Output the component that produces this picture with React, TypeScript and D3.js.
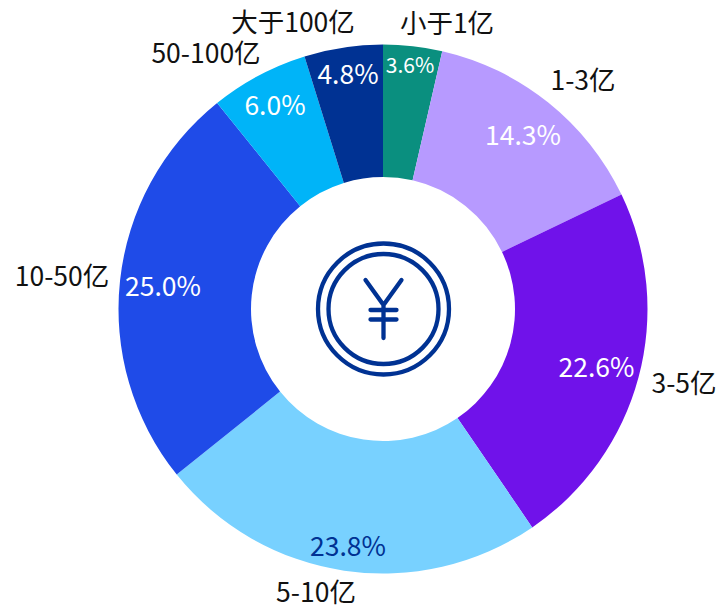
import React from "react";
import * as d3 from "d3";

const categories = ["小于1亿", "1-3亿", "3-5亿", "5-10亿", "10-50亿", "50-100亿", "大于100亿"];
const values = [3.6, 14.3, 22.6, 23.8, 25.0, 6.0, 4.8];
const valueLabels = ["3.6%", "14.3%", "22.6%", "23.8%", "25.0%", "6.0%", "4.8%"];
const colors = ["#0A8F7F", "#B79AFF", "#7012EA", "#78D1FF", "#1F4BE8", "#00B4F8", "#003293"];
const labelColors = ["#fff", "#fff", "#fff", "#003293", "#fff", "#fff", "#fff"];
const fontSizes = [21, 26.5, 26.5, 26.5, 26.5, 26.5, 26.5];
const catPos: [number, number][] = [
  [447, 21], [583, 78], [684, 381], [316, 590],
  [62, 274], [206, 51], [293, 20],
];
const valPos: [number, number][] = [
  [410, 64], [523, 133], [596.5, 365], [348, 544], [163, 284], [275, 103], [348, 72],
];

const cx = 383, cy = 309, ro = 264.5, ri = 132;
const font = "'Noto Sans CJK SC', 'Noto Sans', sans-serif";

export default function App() {
  const pie = d3.pie<number>().sort(null).value((d) => d)(values);
  const arc = d3.arc<d3.PieArcDatum<number>>().innerRadius(ri).outerRadius(ro);
  return (
    <svg width={720} height={606} style={{ position: "absolute", left: 0, top: 0 }} fontFamily={font}>
      <g transform={`translate(${cx},${cy})`}>
        {pie.map((p, i) => <path key={i} d={arc(p) ?? ""} fill={colors[i]} />)}
      </g>
      {valueLabels.map((t, i) => (
        <text key={t} x={valPos[i][0]} y={valPos[i][1]} fill={labelColors[i]} fontSize={fontSizes[i]} textAnchor="middle" dominantBaseline="central">{t}</text>
      ))}
      {categories.map((t, i) => (
        <text key={t} x={catPos[i][0]} y={catPos[i][1]} fill="#111" fontSize={26.5} textAnchor="middle" dominantBaseline="central">{t}</text>
      ))}
      <g fill="none" stroke="#003293" strokeWidth={4.3} strokeLinecap="round" strokeLinejoin="round" transform="translate(383.5,309)">
        <circle r={65.5} />
        <circle r={55} />
        <path d="M-18,-29 L0,-4 L18,-29 M0,-4 V29 M-13,1 H13 M-13,10.5 H13" />
      </g>
    </svg>
  );
}
